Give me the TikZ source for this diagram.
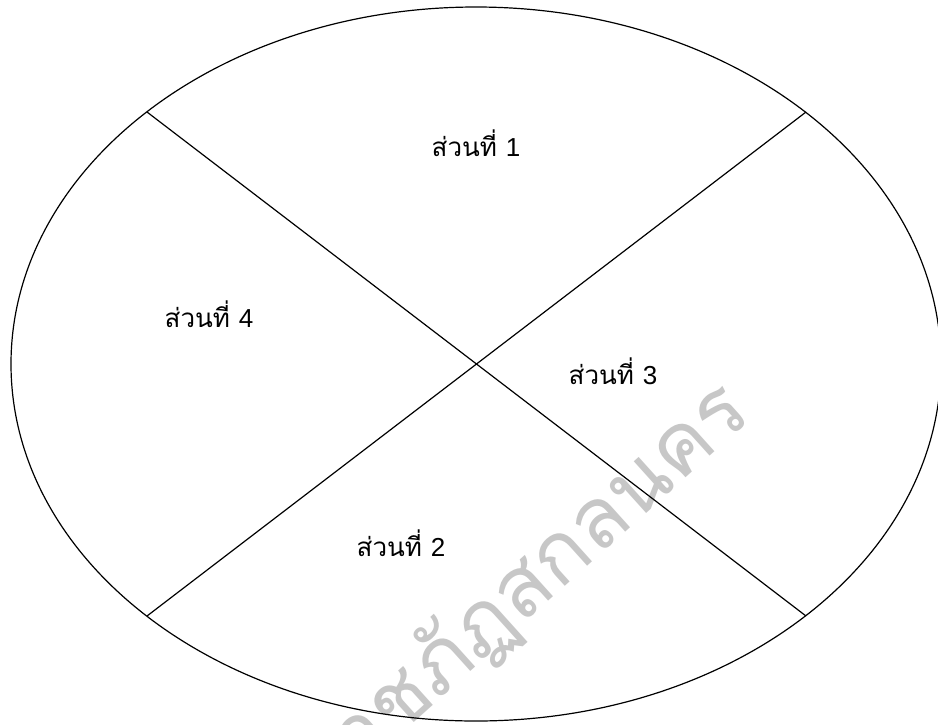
\documentclass[tikz,border=0pt]{standalone}
\usepackage{fontspec}
\newfontfamily\thaifont[Script=Thai]{Loma}
\newfontfamily\digitfont{Liberation Sans}
\tikzset{
  outline/.style={draw=black, line width=1.2pt},
  divider/.style={draw=black, line width=1.2pt},
  partlabel/.style={font=\thaifont\fontsize{26}{30}\selectfont, inner sep=0pt, anchor=base},
  watermark/.style={font=\thaifont\fontsize{84}{90}\selectfont, text=black!22, rotate=42, inner sep=0pt}
}
\newcommand{\mysection}[1]{ส่วนที่ {\digitfont #1}}
\begin{document}
\begin{tikzpicture}[x=1pt,y=-1pt]
\useasboundingbox (0,0) rectangle (938,724);
\clip (0,0) rectangle (938,724);
\fill[white] (0,0) rectangle (938,724);
\node[watermark] (wm) at (524,590) {ราชภัฏสกลนคร};
\coordinate (c) at (476,364);
\draw[outline] (c) ellipse [x radius=465, y radius=357];
\coordinate (tl) at (147,112);
\coordinate (tr) at (806,112);
\coordinate (br) at (806,616);
\coordinate (bl) at (147,616);
\draw[divider] (tl) -- (br);
\draw[divider] (tr) -- (bl);
\node[partlabel] (p1) at (476,156) {\mysection{1}};
\node[partlabel] (p4) at (209,327) {\mysection{4}};
\node[partlabel] (p3) at (613,384) {\mysection{3}};
\node[partlabel] (p2) at (401,556) {\mysection{2}};
\end{tikzpicture}
\end{document}
